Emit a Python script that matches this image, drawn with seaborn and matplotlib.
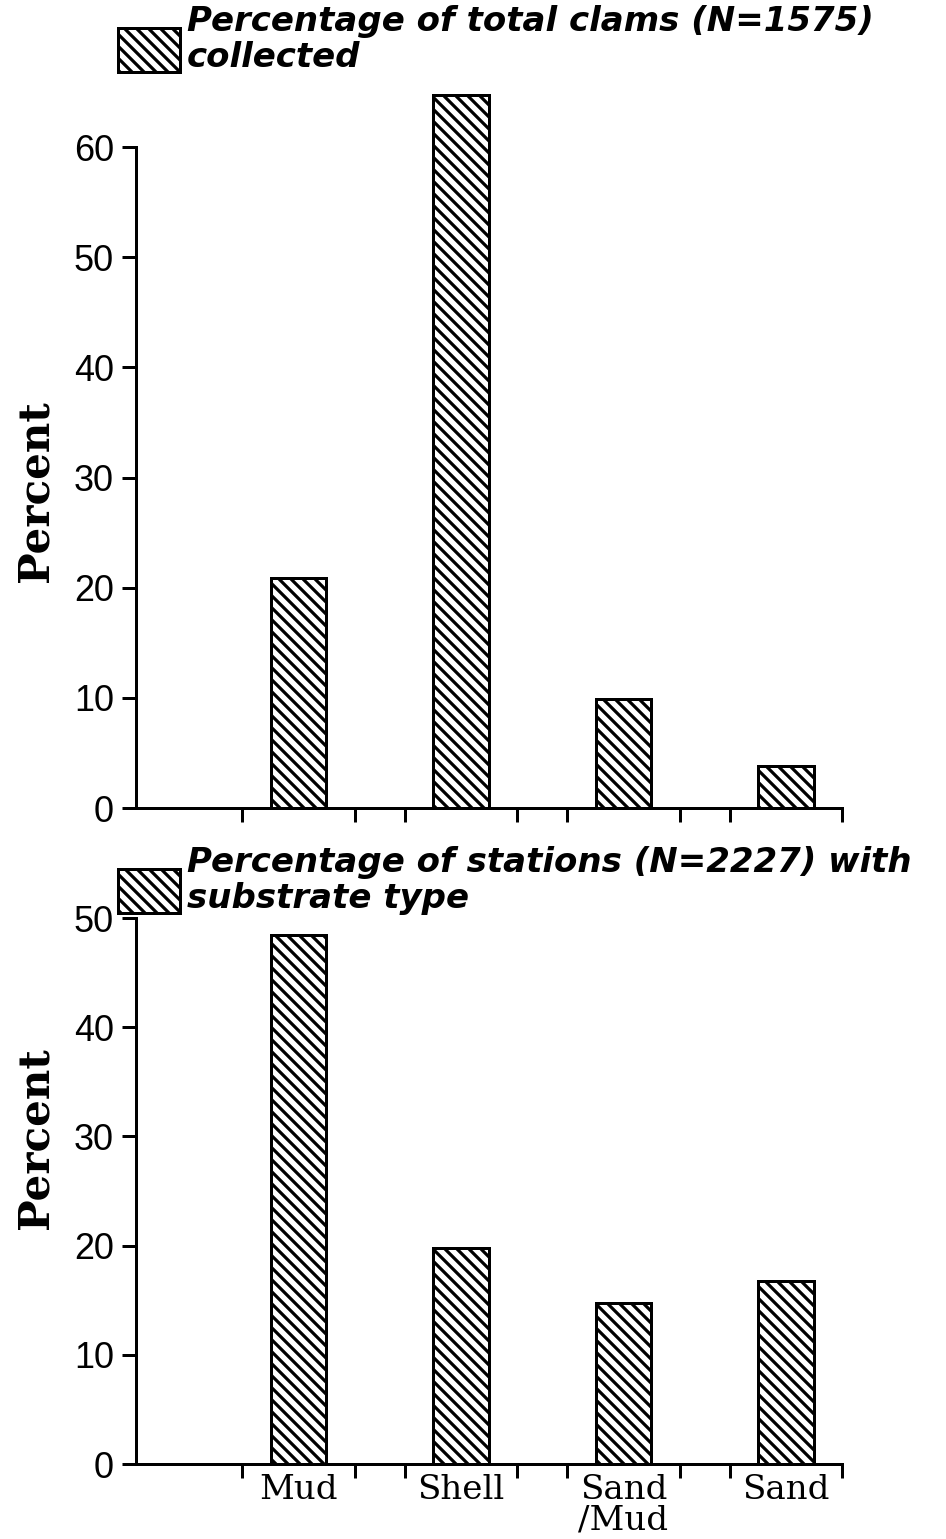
import matplotlib
matplotlib.use('Agg')
import matplotlib.pyplot as plt
from matplotlib.patches import Patch, Rectangle
from matplotlib.legend_handler import HandlerPatch
import seaborn as sns

# ─────────────────────────────────────────────
# Data
# ─────────────────────────────────────────────
substrates = ['Mud', 'Shell', 'Sand\n/Mud', 'Sand']
clams_pct = [20.9, 64.7, 9.9, 3.8]
stations_pct = [48.4, 19.8, 14.7, 16.8]

clams_label = 'Percentage of total clams (N=1575)\ncollected'
stations_label = 'Percentage of stations (N=2227) with\nsubstrate type'

sns.set_style('ticks')
plt.rcParams['hatch.linewidth'] = 1.6
plt.rcParams['axes.linewidth'] = 1.5
for key in ['text.color', 'axes.labelcolor', 'xtick.color', 'ytick.color', 'axes.edgecolor']:
    plt.rcParams[key] = 'black'

DPI = 144
W, H = 946, 1539
HATCH = chr(92) * 4   # dense "\\" hatching
AX_L = 136 / W
AX_W = (842 - 136) / W
EDGE = 0.345  # half width of the category bracket ticks
LEG_FS = 17
PATCH_SHIFT = 4.5  # pt, pushes the legend swatch down a little


def draw_panel(ax, values, ymax, ytop, show_labels):
    sns.barplot(x=substrates, y=values, ax=ax, color='white', width=0.34,
                edgecolor='black', linewidth=1.5, hatch=HATCH, saturation=1)
    ax.set_xlim(-1.0, 3.0 + EDGE)
    ax.set_ylim(0, ymax)
    ax.set_yticks(range(0, ytop + 1, 10))
    ax.spines['left'].set_bounds(0, ytop)
    sns.despine(ax=ax)

    for t in ax.get_yticklabels():
        t.set_fontfamily('Liberation Sans')
        t.set_fontsize(18)
    ax.tick_params(axis='y', direction='out', length=7, width=1.5, pad=4)

    minor = [c + s for c in range(len(substrates)) for s in (-EDGE, EDGE)]
    ax.set_xticks(minor, minor=True)
    ax.tick_params(axis='x', which='major', length=0, pad=5)
    ax.tick_params(axis='x', which='minor', length=7, width=1.5, direction='out')
    if show_labels:
        for t in ax.get_xticklabels():
            t.set_fontfamily('DejaVu Serif')
            t.set_fontsize(17)
            t.set_linespacing(0.95)
    else:
        ax.set_xticklabels([])

    ax.set_xlabel('')
    ax.set_ylabel('Percent', fontfamily='DejaVu Serif', fontweight='bold', fontsize=21)
    return Patch(facecolor='white', edgecolor='black', hatch=HATCH, linewidth=1.5)


def shifted_swatch(legend, orig_handle, xdescent, ydescent, width, height, fontsize):
    return Rectangle((-xdescent, -ydescent - PATCH_SHIFT), width, height)


fig = plt.figure(figsize=(W / DPI, H / DPI), dpi=DPI)
ax_top = fig.add_axes([AX_L, 1 - 808 / H, AX_W, (808 - 81) / H])
ax_bot = fig.add_axes([AX_L, 1 - 1464 / H, AX_W, 546 / H])

h1 = draw_panel(ax_top, clams_pct, 66, 60, False)
h2 = draw_panel(ax_bot, stations_pct, 50, 50, True)
ax_top.yaxis.set_label_coords(-0.112, (808 - 491) / 727)
ax_bot.yaxis.set_label_coords(-0.112, (1464 - 1138) / 546)

legend_font = {'family': 'DejaVu Sans', 'weight': 'bold', 'style': 'italic', 'size': LEG_FS}
em = LEG_FS * DPI / 72
patch_h = 44 / em
for handle, text, top in [(h1, clams_label, 5), (h2, stations_label, 846)]:
    leg = fig.legend([handle], [text], loc='upper left',
                     bbox_to_anchor=(118 / W, 1 - top / H), frameon=False,
                     prop=legend_font, borderpad=0, borderaxespad=0,
                     handlelength=62 / em, handleheight=(patch_h - 0.245) / 0.65,
                     handletextpad=0.2,
                     handler_map={Patch: HandlerPatch(patch_func=shifted_swatch)})
    for t in leg.get_texts():
        t.set_linespacing(1.1)

fig.savefig('out.png', dpi=DPI, facecolor='white')
